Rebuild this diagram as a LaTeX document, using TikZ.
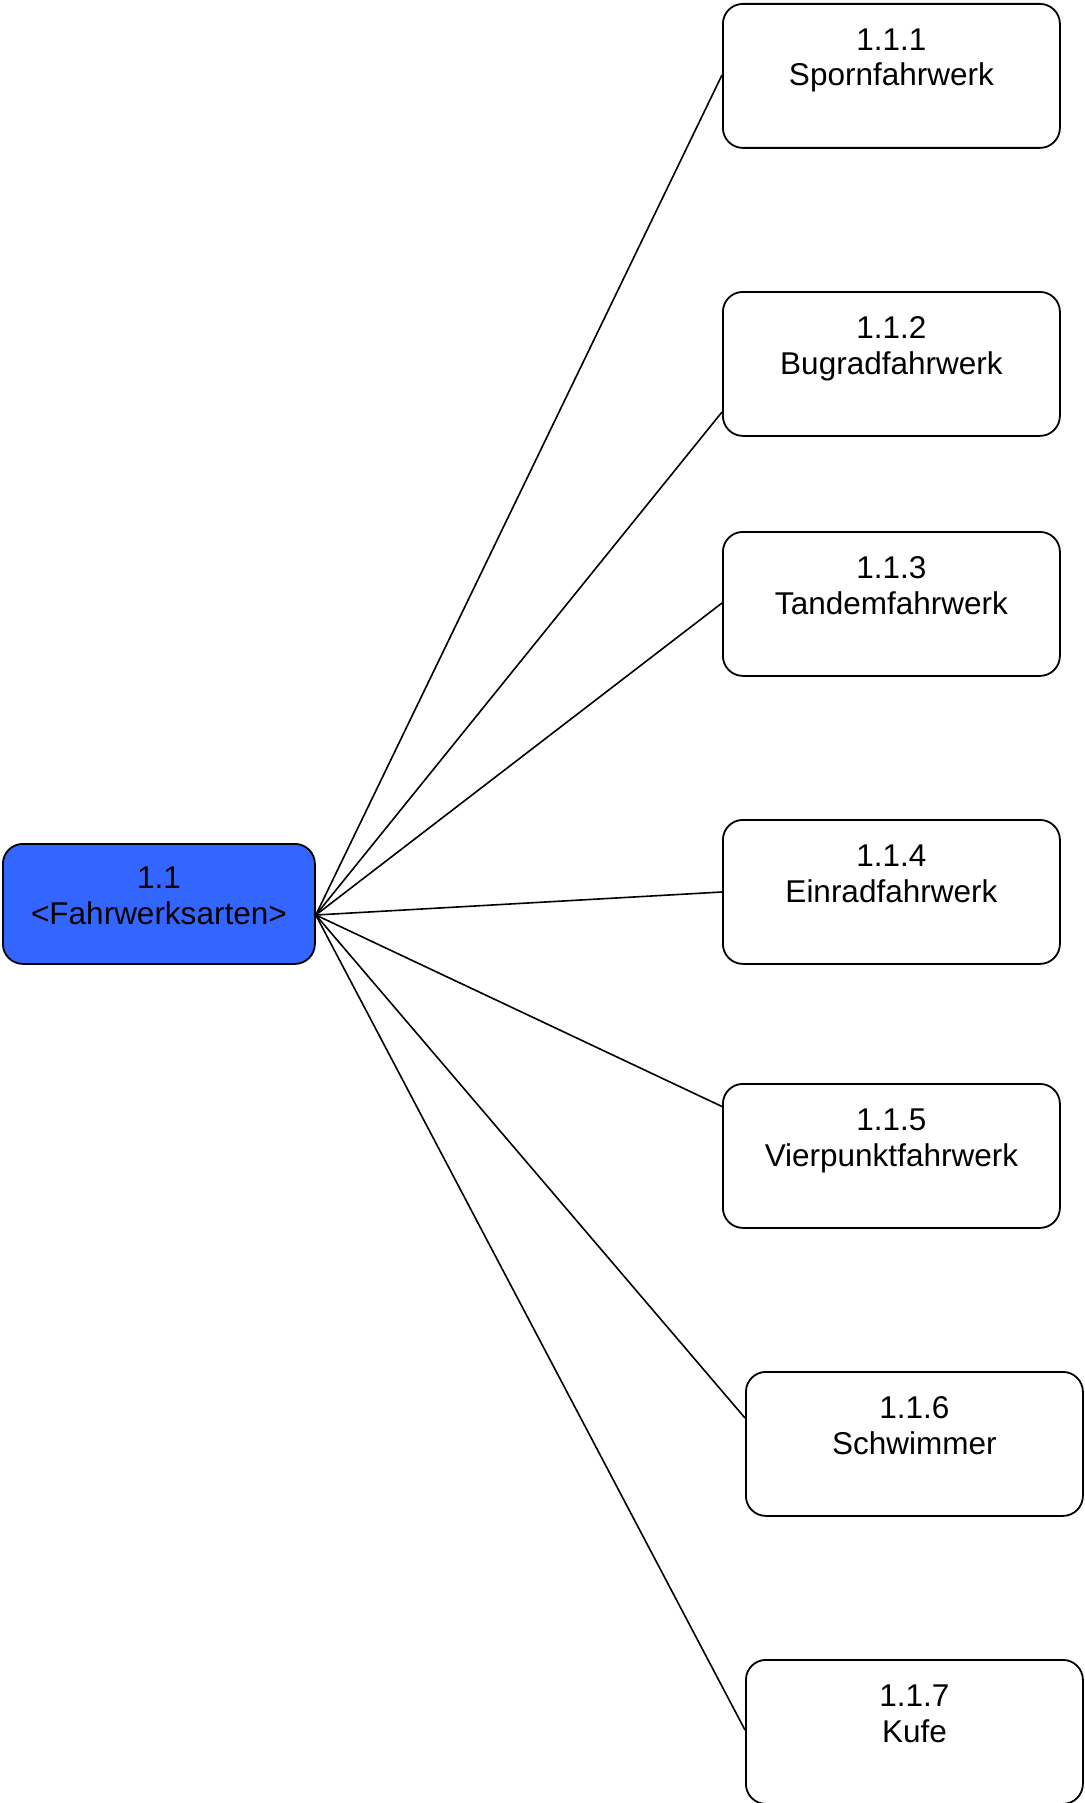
\documentclass[tikz,border=0pt]{standalone}
\usepackage{fontspec}
\setmainfont{Liberation Sans}
\usetikzlibrary{calc}
\definecolor{rootblue}{RGB}{51,102,255}
\tikzset{
  box/.style={draw=black, line width=1.8pt, rounded corners=20pt,
    minimum width=337pt, minimum height=144pt, inner sep=0pt,
    anchor=north west, fill=white},
  rootbox/.style={box, fill=rootblue, minimum width=312pt, minimum height=120pt},
  lbl/.style={font=\fontsize{31.5}{36}\selectfont, anchor=base, inner sep=0pt},
  link/.style={draw=black, line width=1.6pt},
}
\begin{document}
\begin{tikzpicture}[x=1pt, y=-1pt]
  \useasboundingbox (0,0) rectangle (1084,1803);

  % boxes
  \node[rootbox] (root) at (2,843) {};
  \node[box] (b1) at (722,3) {};
  \node[box] (b2) at (722,291) {};
  \node[box] (b3) at (722,531) {};
  \node[box] (b4) at (722,819) {};
  \node[box] (b5) at (722,1083) {};
  \node[box] (b6) at (745,1371) {};
  \node[box] (b7) at (745,1659) {};

  % connector end points
  \coordinate (r) at ($(root.north east)+(0,72)$);
  \coordinate (c1) at ($(b1.north west)+(0,72)$);
  \coordinate (c2) at ($(b2.north west)+(0,121)$);
  \coordinate (c3) at ($(b3.north west)+(0,72)$);
  \coordinate (c4) at ($(b4.north west)+(0,73)$);
  \coordinate (c5) at ($(b5.north west)+(0,23.5)$);
  \coordinate (c6) at ($(b6.north west)+(0,47)$);
  \coordinate (c7) at ($(b7.north west)+(0,71)$);

  \foreach \c in {c1,c2,c3,c4,c5,c6,c7}
    \draw[link] (r) -- (\c);

  % labels
  \node[lbl] (rid) at ($(root.north)+(0,45)$) {1.1};
  \node[lbl] (rname) at ($(root.north)+(0,81)$) {<Fahrwerksarten>};

  \node[lbl] (id1) at ($(b1.north)+(0,47.5)$) {1.1.1};
  \node[lbl] (n1) at ($(b1.north)+(0,83)$) {Spornfahrwerk};
  \node[lbl] (id2) at ($(b2.north)+(0,47.5)$) {1.1.2};
  \node[lbl] (n2) at ($(b2.north)+(0,83)$) {Bugradfahrwerk};
  \node[lbl] (id3) at ($(b3.north)+(0,47.5)$) {1.1.3};
  \node[lbl] (n3) at ($(b3.north)+(0,83)$) {Tandemfahrwerk};
  \node[lbl] (id4) at ($(b4.north)+(0,47.5)$) {1.1.4};
  \node[lbl] (n4) at ($(b4.north)+(0,83)$) {Einradfahrwerk};
  \node[lbl] (id5) at ($(b5.north)+(0,47.5)$) {1.1.5};
  \node[lbl] (n5) at ($(b5.north)+(0,83)$) {Vierpunktfahrwerk};
  \node[lbl] (id6) at ($(b6.north)+(0,47.5)$) {1.1.6};
  \node[lbl] (n6) at ($(b6.north)+(0,83)$) {Schwimmer};
  \node[lbl] (id7) at ($(b7.north)+(0,47.5)$) {1.1.7};
  \node[lbl] (n7) at ($(b7.north)+(0,83)$) {Kufe};
\end{tikzpicture}
\end{document}
